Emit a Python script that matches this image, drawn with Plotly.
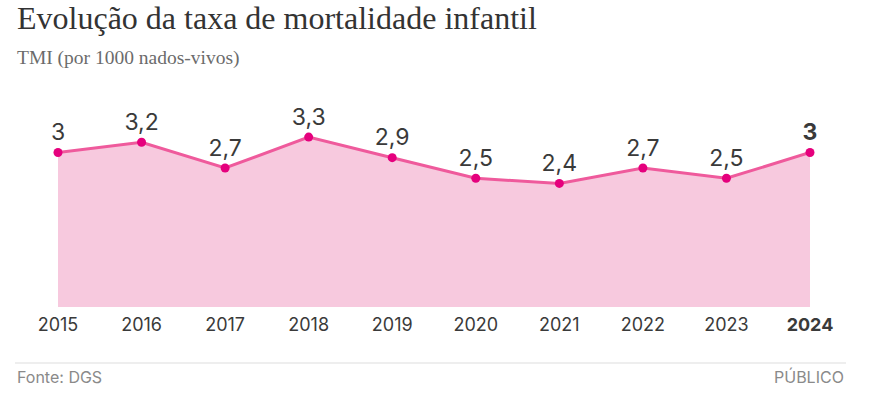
import plotly.graph_objects as go

years = [2015, 2016, 2017, 2018, 2019, 2020, 2021, 2022, 2023, 2024]
tmi = [3.0, 3.2, 2.7, 3.3, 2.9, 2.5, 2.4, 2.7, 2.5, 3.0]
labels = ["3", "3,2", "2,7", "3,3", "2,9", "2,5", "2,4", "2,7", "2,5", "<b>3</b>"]
tick_text = [str(y) for y in years[:-1]] + ["<b>2024</b>"]

W, H = 888, 420
ML, MR, MT, MB = 58, 78, 100, 113
PW, PH = W - ML - MR, H - MT - MB

def px(x):
    return (x - ML) / PW

def py(y):
    return 1 - (y - MT) / PH

fig = go.Figure()
fig.add_trace(go.Scatter(
    x=years, y=tmi, mode="lines+markers+text",
    fill="tozeroy", fillcolor="#f7c9de",
    line=dict(color="#ef5a9c", width=3),
    marker=dict(color="#e5007d", size=9),
    text=labels, textposition="top center",
    textfont=dict(family="Inter, Roboto, sans-serif", size=23, color="#3a3a3a"),
    cliponaxis=False, hoverinfo="skip",
))

fig.update_layout(
    width=W, height=H,
    margin=dict(l=ML, r=MR, t=MT, b=MB),
    paper_bgcolor="white", plot_bgcolor="white",
    showlegend=False,
    xaxis=dict(range=[2015, 2024], tickvals=years, ticktext=tick_text,
               showgrid=False, zeroline=False, showline=False, ticks="",
               tickfont=dict(family="Inter, Roboto, sans-serif", size=18, color="#3a3a3a"),
               ticklabelstandoff=5, fixedrange=True),
    yaxis=dict(range=[0, 4.02], visible=False, showgrid=False, fixedrange=True),
    annotations=[
        dict(text="Evolução da taxa de mortalidade infantil", xref="paper", yref="paper",
             x=px(15), y=py(18), xanchor="left", yanchor="middle", showarrow=False,
             font=dict(family="Liberation Serif, DejaVu Serif, serif", size=32, color="#333333")),
        dict(text="TMI (por 1000 nados-vivos)", xref="paper", yref="paper",
             x=px(15), y=py(58), xanchor="left", yanchor="middle", showarrow=False,
             font=dict(family="Liberation Serif, DejaVu Serif, serif", size=19.5, color="#6b6b6b")),
        dict(text="Fonte: DGS", xref="paper", yref="paper",
             x=px(15), y=py(377), xanchor="left", yanchor="middle", showarrow=False,
             font=dict(family="Inter, Roboto, sans-serif", size=16, color="#8a8a8a")),
        dict(text="PÚBLICO", xref="paper", yref="paper",
             x=px(846), y=py(377), xanchor="right", yanchor="middle", showarrow=False,
             font=dict(family="Inter, Roboto, sans-serif", size=16, color="#8a8a8a")),
    ],
    shapes=[
        dict(type="line", xref="paper", yref="paper", x0=px(15), x1=px(846),
             y0=py(363), y1=py(363), line=dict(color="#dddddd", width=1)),
    ],
)

fig.write_html("out.html")
